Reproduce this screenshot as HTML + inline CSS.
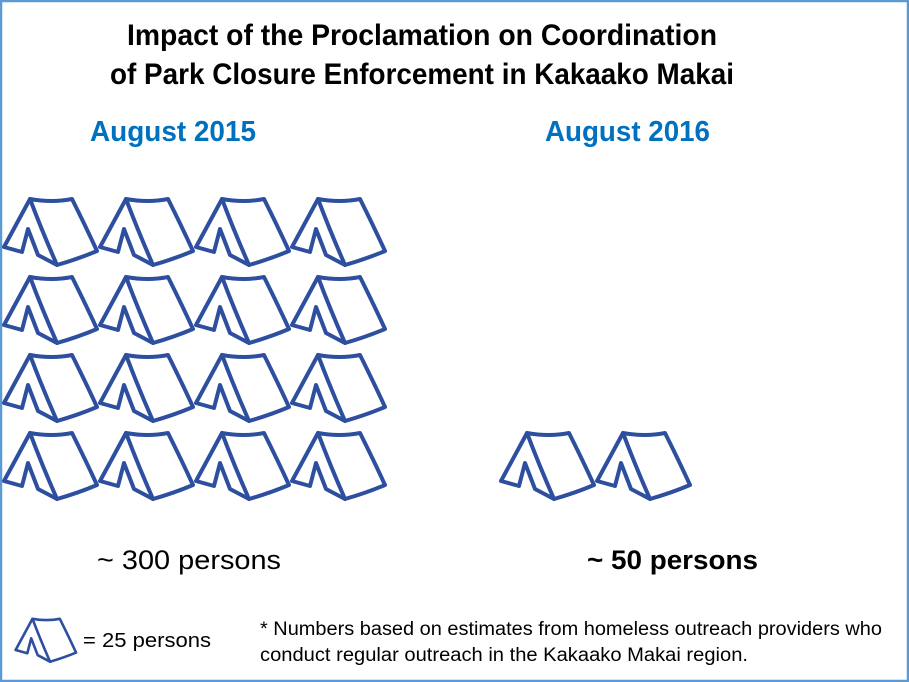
<!DOCTYPE html>
<html><head><meta charset="utf-8"><style>
html,body{margin:0;padding:0;background:#fff}
svg{display:block}
text{font-family:"Liberation Sans",sans-serif}
</style></head><body>
<svg width="909" height="682" viewBox="0 0 909 682" xmlns="http://www.w3.org/2000/svg">
<defs>
<g id="tent" fill="none" stroke="#2e4f9f" stroke-width="4" stroke-linejoin="round" stroke-linecap="round">
<path d="M30 12 Q52 16 72 12 Q86 40 97 64 Q78 72 57 78 Q42 44 30 12 Z"/>
<path d="M30 12 Q16 38 4 60 L22 65 L28 42 L38 68 L57 78"/>
</g>
</defs>
<rect x="1" y="1" width="907" height="680" fill="#fff" stroke="#5b9bd5" stroke-width="2.5"/>
<text x="127" y="45" font-size="30" font-weight="bold" textLength="590" lengthAdjust="spacingAndGlyphs">Impact of the Proclamation on Coordination</text>
<text x="110" y="84" font-size="30" font-weight="bold" textLength="624" lengthAdjust="spacingAndGlyphs">of Park Closure Enforcement in Kakaako Makai</text>
<text x="90" y="141" font-size="29" font-weight="bold" fill="#0070c0" textLength="166" lengthAdjust="spacingAndGlyphs">August 2015</text>
<text x="545" y="141" font-size="29" font-weight="bold" fill="#0070c0" textLength="165" lengthAdjust="spacingAndGlyphs">August 2016</text>
<g>
<use href="#tent" x="0" y="187"/><use href="#tent" x="96" y="187"/><use href="#tent" x="192" y="187"/><use href="#tent" x="288" y="187"/>
<use href="#tent" x="0" y="265"/><use href="#tent" x="96" y="265"/><use href="#tent" x="192" y="265"/><use href="#tent" x="288" y="265"/>
<use href="#tent" x="0" y="343"/><use href="#tent" x="96" y="343"/><use href="#tent" x="192" y="343"/><use href="#tent" x="288" y="343"/>
<use href="#tent" x="0" y="421"/><use href="#tent" x="96" y="421"/><use href="#tent" x="192" y="421"/><use href="#tent" x="288" y="421"/>
<use href="#tent" x="497" y="421"/><use href="#tent" x="593" y="421"/>
</g>
<g transform="translate(13,611) scale(0.65)"><use href="#tent" x="0" y="0"/></g>
<text x="97" y="569" font-size="27" textLength="184" lengthAdjust="spacingAndGlyphs">~ 300 persons</text>
<text x="587" y="569" font-size="27" font-weight="bold" textLength="171" lengthAdjust="spacingAndGlyphs">~ 50 persons</text>
<text x="83" y="647" font-size="20" textLength="128" lengthAdjust="spacingAndGlyphs">= 25 persons</text>
<text x="260" y="635" font-size="19" textLength="622" lengthAdjust="spacingAndGlyphs">* Numbers based on estimates from homeless outreach providers who</text>
<text x="260" y="661" font-size="19" textLength="488" lengthAdjust="spacingAndGlyphs">conduct regular outreach in the Kakaako Makai region.</text>
</svg>
</body></html>
